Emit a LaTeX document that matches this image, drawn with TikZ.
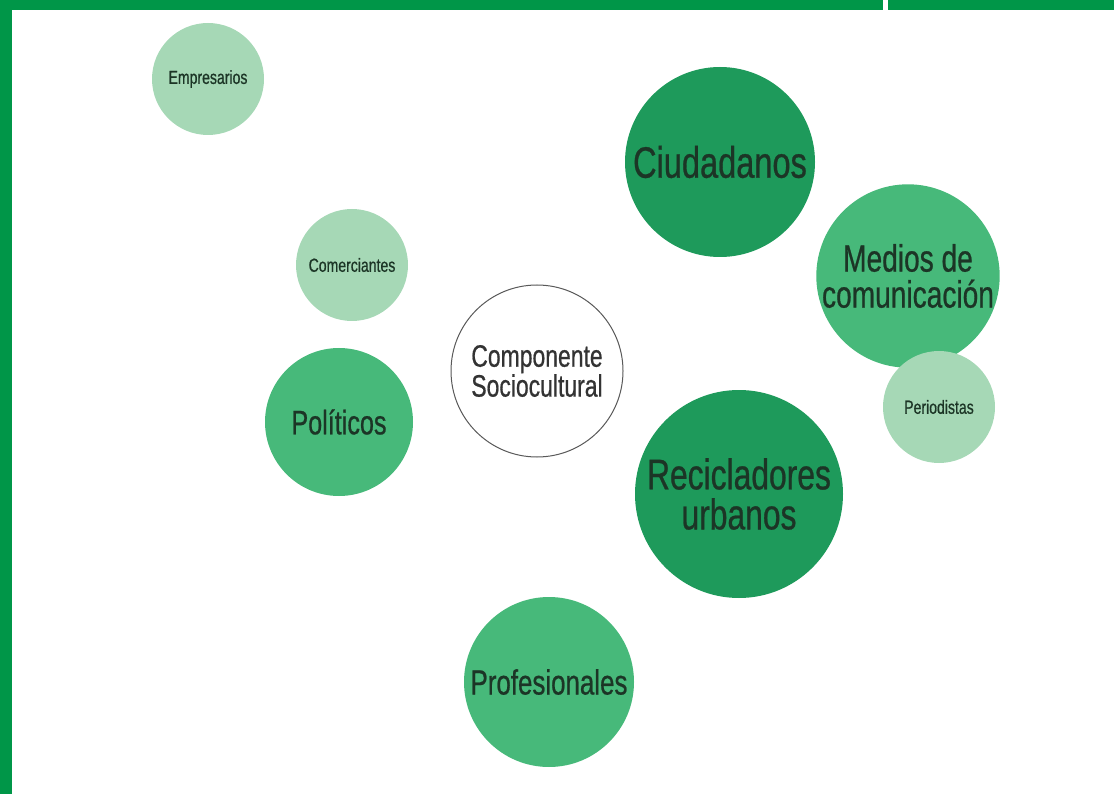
\documentclass[tikz,border=0pt]{standalone}
\usepackage{fontspec}
\setmainfont[FakeStretch=0.74,FakeBold=0.6]{Liberation Sans}
\definecolor{marco}{HTML}{009648}
\definecolor{verdeosc}{HTML}{1E9A5B}
\definecolor{verdemed}{HTML}{47B97A}
\definecolor{verdeclaro}{HTML}{A6D8B6}
\definecolor{letra}{HTML}{1C3526}

\tikzset{actor/.style={circle,inner sep=0pt,align=center,text=letra}}
\tikzstyle{grande}=[actor,fill=verdeosc]
\tikzstyle{medio}=[actor,fill=verdemed]
\tikzstyle{chico}=[actor,fill=verdeclaro,minimum size=112pt,font=\fontsize{19}{21}\selectfont]
\tikzstyle{nucleo}=[circle,draw=black!65,line width=1pt,fill=white,inner sep=0pt,align=center,text=black!80]

\begin{document}
\begin{tikzpicture}[x=1pt,y=-1pt]
	\useasboundingbox (0,0) rectangle (1114,794);
	% marco
	\fill[marco] (0,0) rectangle (883,10);
	\fill[marco] (888,0) rectangle (1114,10);
	\fill[marco] (0,0) rectangle (12,794);
	
	\node (comp)[nucleo,minimum size=172pt,font=\fontsize{31}{27}\selectfont] at (537,371) {Componente\\Sociocultural};
	
	\node (ciud)[grande,minimum size=190pt,font=\fontsize{44}{40}\selectfont] at (720,162) {Ciudadanos};
	\node (recic)[grande,minimum size=208pt,font=\fontsize{43}{40}\selectfont] at (739,494) {Recicladores\\urbanos};
	
	\node (medios)[medio,minimum size=180pt,font=\fontsize{38}{36}\selectfont] at (908,276) {Medios de\\comunicación};
	\node (polit)[medio,minimum size=148pt,font=\fontsize{34}{36}\selectfont] at (339,422) {Políticos};
	\node (prof)[medio,minimum size=170pt,font=\fontsize{35}{36}\selectfont] at (549,682) {Profesionales};
	
	\foreach \nm/\x/\y/\txt in {empr/208/79/Empresarios, comer/352/265/Comerciantes, perio/939/407/Periodistas}{
		\node (\nm)[chico] at (\x,\y) {\txt};
	}
\end{tikzpicture}
\end{document}
